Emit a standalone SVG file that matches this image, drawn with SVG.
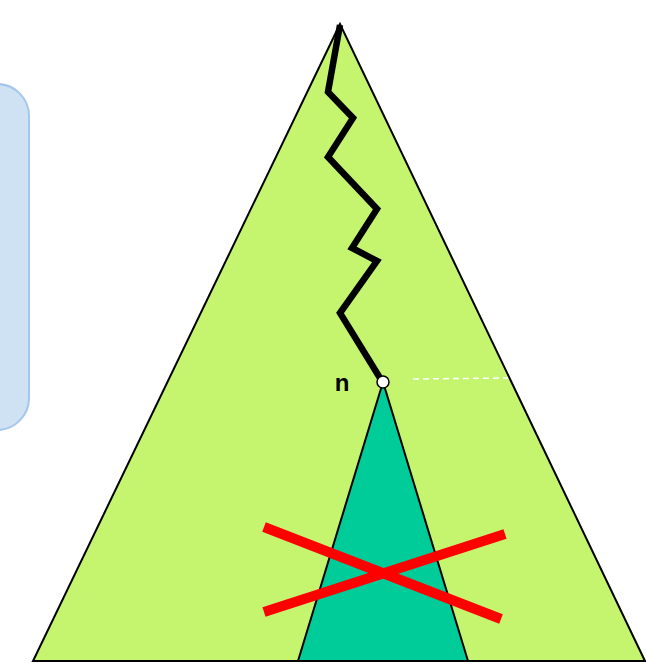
<svg xmlns="http://www.w3.org/2000/svg" width="646" height="667" viewBox="0 0 646 667">
<style>
.tri{stroke:#000;stroke-width:2;stroke-linejoin:miter}
.cross{stroke:#ff0000;stroke-width:10;stroke-linecap:butt}
.lbl{font-family:"Liberation Sans",Arial,sans-serif;font-weight:bold;font-size:24px;fill:#000}
</style>
<g id="panel">
<rect x="-40" y="84" width="69" height="346" rx="32" ry="32" fill="#cfe2f3" stroke="#a4c6ea" stroke-width="2"/>
</g>
<g id="big-tree">
<polygon class="tri" points="340,24 33,661 645,661" fill="#c5f56f"/>
</g>
<g id="subtree">
<polygon class="tri" points="383,382 298,661 468,661" fill="#00cc99"/>
</g>
<g id="connectors">
<polyline points="340,25 328,92 353,118 328,157 377,209 352,248 377,261 340,313 380,378" fill="none" stroke="#000" stroke-width="6.5" stroke-linejoin="miter"/>
<line x1="413" y1="379" x2="508" y2="378" stroke="#fff" stroke-width="1.5" stroke-dasharray="6,4"/>
</g>
<g id="node-n">
<circle cx="383" cy="382" r="6" fill="#fff" stroke="#000" stroke-width="1.5"/>
<text class="lbl" x="342" y="391" text-anchor="middle">n</text>
</g>
<g id="cross">
<line class="cross" x1="264" y1="527" x2="501" y2="619"/>
<line class="cross" x1="264" y1="612" x2="505" y2="534"/>
</g>
</svg>
